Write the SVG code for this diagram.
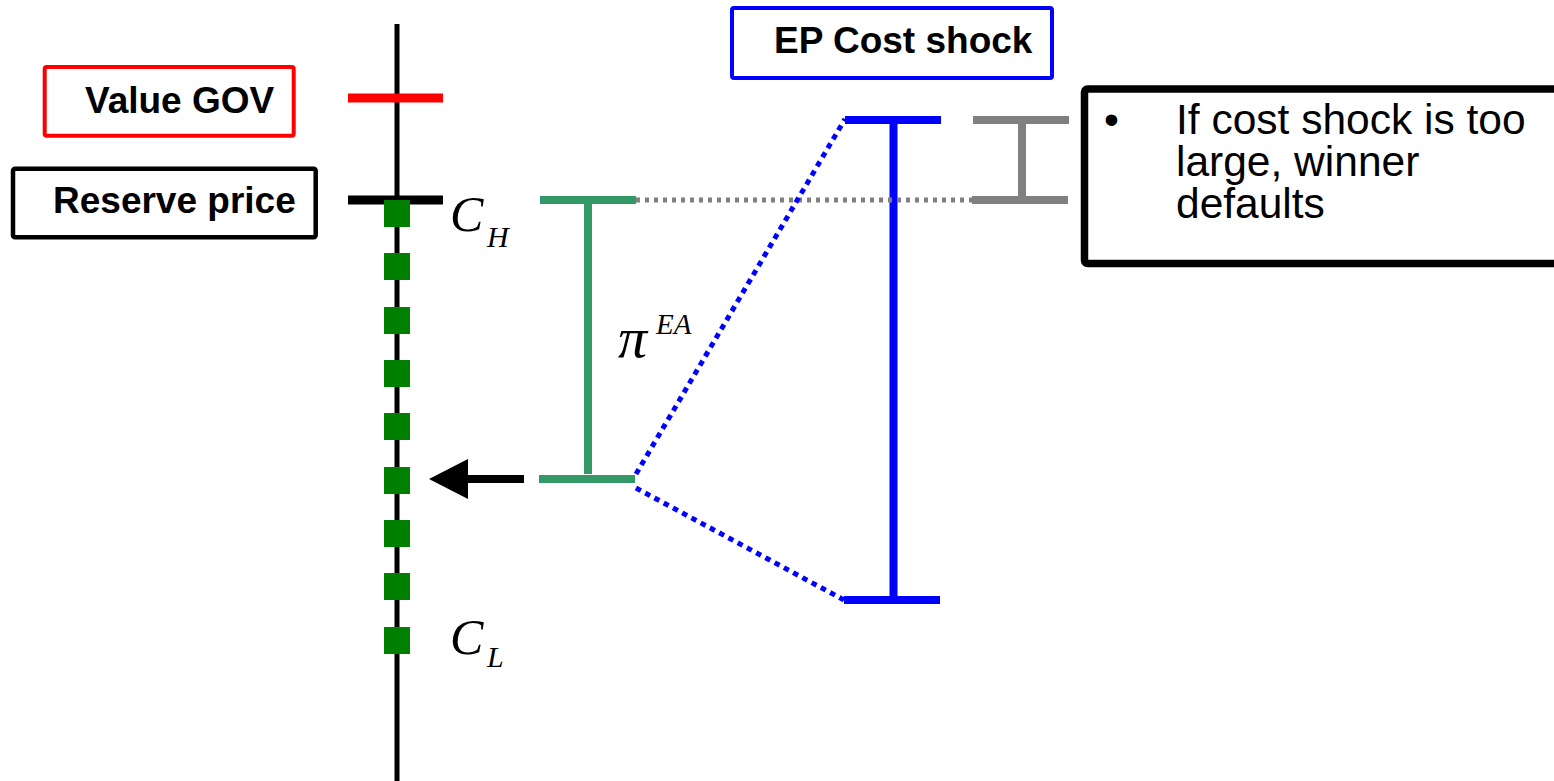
<svg xmlns="http://www.w3.org/2000/svg" width="1554" height="781" viewBox="0 0 1554 781">
<style>
.lbl{font-family:"Liberation Sans",Arial,sans-serif;font-weight:bold;font-size:37px;fill:#000}
.body{font-family:"Liberation Sans",Arial,sans-serif;font-size:42.5px;fill:#000}
.math{font-family:"Liberation Serif","Times New Roman",serif;font-style:italic;fill:#000}
.sq{fill:#008000}
.grn{stroke:#339966;stroke-width:8;fill:none}
.blu{stroke:#0000ff;stroke-width:8;fill:none}
.gry{stroke:#808080;stroke-width:8;fill:none}
</style>
<rect width="1554" height="781" fill="#fff"/>
<g id="axis">
<line x1="397" y1="24" x2="397" y2="781" stroke="#000" stroke-width="5"/>
<line x1="348" y1="98" x2="443" y2="98" stroke="#ff0000" stroke-width="9"/>
<line x1="348" y1="200" x2="443" y2="200" stroke="#000" stroke-width="9"/>
</g>
<g id="squares">
<rect class="sq" x="384" y="200" width="26" height="27"/>
<rect class="sq" x="384" y="253" width="26" height="27"/>
<rect class="sq" x="384" y="307" width="26" height="27"/>
<rect class="sq" x="384" y="360" width="26" height="27"/>
<rect class="sq" x="384" y="413" width="26" height="27"/>
<rect class="sq" x="384" y="467" width="26" height="27"/>
<rect class="sq" x="384" y="520" width="26" height="27"/>
<rect class="sq" x="384" y="573" width="26" height="27"/>
<rect class="sq" x="384" y="627" width="26" height="27"/>
</g>
<g id="value-gov">
<rect x="44.7" y="67" width="249" height="68.7" rx="2" fill="none" stroke="#ff0000" stroke-width="4"/>
<text class="lbl" x="85" y="113">Value GOV</text>
</g>
<g id="reserve-price">
<rect x="13" y="168.7" width="302.7" height="68.6" rx="2" fill="none" stroke="#000" stroke-width="4.5"/>
<text class="lbl" x="53" y="213">Reserve price</text>
</g>
<g id="ep-cost-shock">
<rect x="732" y="8" width="320" height="70" rx="2" fill="none" stroke="#0000ff" stroke-width="4"/>
<text class="lbl" x="774" y="53">EP Cost shock</text>
</g>
<g id="note">
<rect x="1084.5" y="89" width="500" height="174.5" rx="3" fill="none" stroke="#000" stroke-width="7.5"/>
<text class="body" x="1104" y="134">•</text>
<text class="body" x="1176" y="134">If cost shock is too</text>
<text class="body" x="1176" y="176">large, winner</text>
<text class="body" x="1176" y="218">defaults</text>
</g>
<g id="labels">
<text class="math" x="450" y="231" font-size="50">C</text>
<text class="math" x="487" y="247" font-size="30">H</text>
<text class="math" x="450" y="654" font-size="50">C</text>
<text class="math" x="487" y="667" font-size="30">L</text>
<text class="math" x="618" y="357" font-size="58">π</text>
<text class="math" x="656" y="334" font-size="29">EA</text>
</g>
<g id="ea-interval">
<line class="grn" x1="540" y1="200" x2="636" y2="200"/>
<line class="grn" x1="588" y1="200" x2="588" y2="474"/>
<line class="grn" x1="539" y1="479" x2="635" y2="479"/>
</g>
<g id="ep-interval">
<line class="blu" x1="845" y1="120" x2="941" y2="120"/>
<line class="blu" x1="893.5" y1="120" x2="893.5" y2="596"/>
<line class="blu" x1="844" y1="600" x2="940" y2="600"/>
</g>
<g id="default-interval">
<line class="gry" x1="973" y1="120" x2="1069" y2="120"/>
<line class="gry" x1="1022" y1="120" x2="1022" y2="200"/>
<line class="gry" x1="972" y1="200" x2="1068" y2="200"/>
</g>
<g id="connectors">
<line x1="636" y1="200" x2="972" y2="200" stroke="#808080" stroke-width="5" stroke-dasharray="4 5"/>
<line x1="636" y1="474" x2="845" y2="119" stroke="#0000ff" stroke-width="5" stroke-dasharray="5.5 5"/>
<line x1="636" y1="488" x2="844" y2="600" stroke="#0000ff" stroke-width="5" stroke-dasharray="5.5 5"/>
<line x1="524" y1="479" x2="465" y2="479" stroke="#000" stroke-width="8"/>
<polygon points="429,479 468,459 468,499" fill="#000"/>
</g>
</svg>
